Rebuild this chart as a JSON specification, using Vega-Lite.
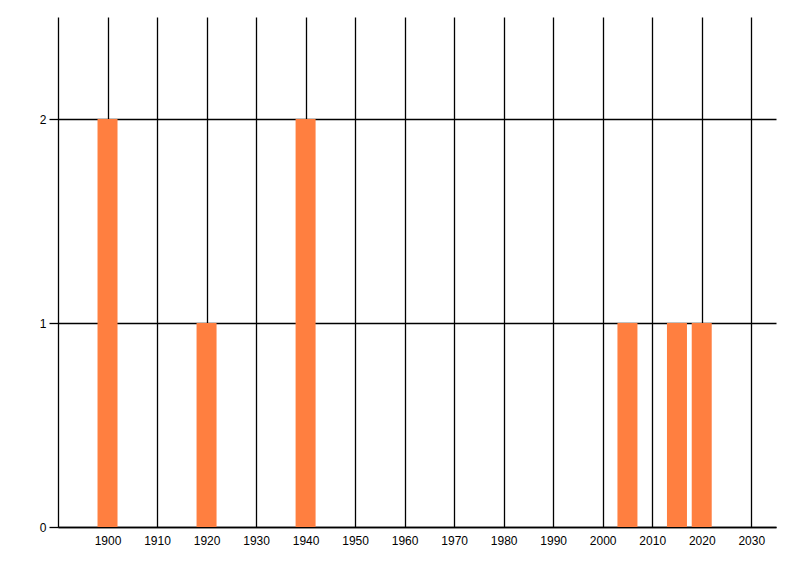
{
  "$schema": "https://vega.github.io/schema/vega-lite/v6.json",
  "width": 718,
  "height": 510,
  "autosize": "none",
  "padding": {"left": 58, "top": 17, "right": 24, "bottom": 49},
  "background": "white",
  "config": {
    "view": {"stroke": null},
    "axis": {
      "labelFont": "Liberation Sans",
      "labelFontSize": 12,
      "labelColor": "black",
      "domainColor": "black",
      "domainWidth": 1.3,
      "gridColor": "black",
      "gridWidth": 1.3,
      "gridOpacity": 1,
      "tickColor": "black",
      "tickWidth": 1.3,
      "title": null
    }
  },
  "data": {
    "values": [
      {"year": 1900, "count": 2},
      {"year": 1920, "count": 1},
      {"year": 1940, "count": 2},
      {"year": 2005, "count": 1},
      {"year": 2015, "count": 1},
      {"year": 2020, "count": 1}
    ]
  },
  "mark": {"type": "bar", "width": 20, "color": "#FF7F40"},
  "encoding": {
    "x": {
      "field": "year",
      "type": "quantitative",
      "scale": {"domain": [1890, 2035], "nice": false, "zero": false, "padding": 0},
      "axis": {
        "values": [1900, 1910, 1920, 1930, 1940, 1950, 1960, 1970, 1980, 1990, 2000, 2010, 2020, 2030],
        "format": "d",
        "ticks": false,
        "labelPadding": 8
      }
    },
    "y": {
      "field": "count",
      "type": "quantitative",
      "scale": {"domain": [0, 2.5], "nice": false},
      "axis": {
        "values": [0, 1, 2],
        "tickSize": 9,
        "labelPadding": 3
      }
    }
  }
}
